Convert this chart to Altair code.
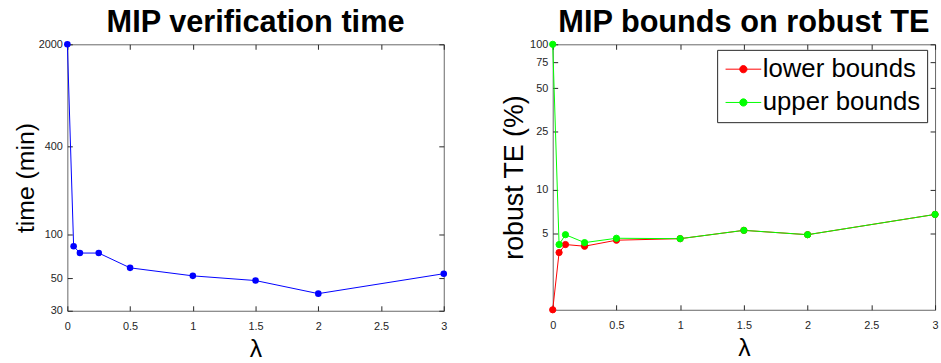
import altair as alt
import pandas as pd

# ---- data ----
lam = [0, 0.05, 0.1, 0.25, 0.5, 1, 1.5, 2, 3]
time_min = [2000, 83, 74.5, 74.5, 59, 52, 48.3, 39.3, 53.8]
lower_te = [1.5, 3.71, 4.21, 4.1, 4.51, 4.62, 5.27, 4.92, 6.78]
upper_te = [100, 4.21, 4.92, 4.34, 4.65, 4.62, 5.27, 4.92, 6.78]
series_names = ["lower bounds", "upper bounds"]
series_colors = ["#FF0000", "#00FF00"]
x_ticks = [0, 0.5, 1, 1.5, 2, 2.5, 3]
time_ticks = [30, 50, 100, 400, 2000]
te_ticks = [5, 10, 25, 50, 75, 100]

df_time = pd.DataFrame({"lam": lam, "time": time_min})
df_te = pd.DataFrame({
    "lam": lam + lam,
    "te": lower_te + upper_te,
    "series": [series_names[0]] * len(lam) + [series_names[1]] * len(lam),
})

FONT = "Liberation Sans"
TICK = "#262626"


def x_main():
    return alt.Axis(orient="bottom", offset=-5, tickSize=5, domain=False, values=x_ticks,
                    format="~g", labelPadding=10, labelFlush=False, labelFont=FONT,
                    labelFontSize=11, labelColor=TICK, tickColor=TICK, title="λ",
                    titleFont=FONT, titleFontSize=25, titleFontWeight="normal",
                    titleColor="#000000", titlePadding=5, grid=False)


def x_top():
    return alt.Axis(orient="top", offset=-5, tickSize=5, domain=False, labels=False,
                    values=x_ticks, tickColor=TICK, title=None, grid=False,
                    minExtent=0, maxExtent=5)


def y_main(ticks, title, size, pad):
    return alt.Axis(orient="left", offset=-5, tickSize=5, domain=False, values=ticks,
                    format="d", labelPadding=5, labelOverlap=False, labelFont=FONT,
                    labelFontSize=11, labelColor=TICK, tickColor=TICK, title=title,
                    titleFont=FONT, titleFontSize=size, titleFontWeight="normal",
                    titleColor="#000000", titlePadding=pad, grid=False)


def y_right(ticks):
    return alt.Axis(orient="right", offset=-5, tickSize=5, domain=False, labels=False,
                    values=ticks, tickColor=TICK, title=None, grid=False,
                    minExtent=0, maxExtent=5)


def title(text):
    return alt.TitleParams(text, font=FONT, fontSize=31, fontWeight="bold", color="#000000",
                           anchor="middle", frame="group", baseline="alphabetic", offset=-25)


xs = alt.Scale(domain=[0, 3], nice=False, zero=False)

# ---- left panel ----
ys_time = alt.Scale(type="log", domain=[30, 2000], nice=False)
base_l = alt.Chart(df_time)
line_l = base_l.mark_line(color="#0000FF", strokeWidth=1).encode(
    x=alt.X("lam:Q", scale=xs, axis=x_main()),
    y=alt.Y("time:Q", scale=ys_time, axis=y_main(time_ticks, "time (min)", 25, 0)),
)
pts_l = base_l.mark_point(filled=True, size=44, color="#0000FF", opacity=1).encode(
    x=alt.X("lam:Q", scale=xs, axis=x_top()),
    y=alt.Y("time:Q", scale=ys_time, axis=y_right(time_ticks)),
)
left = alt.layer(line_l, pts_l).resolve_axis(x="independent", y="independent").properties(
    width=380, height=269, title=title("MIP verification time"))

# ---- right panel ----
ys_te = alt.Scale(type="log", domain=[1.5, 100], nice=False)
col_scale = alt.Scale(domain=series_names, range=series_colors)
SYMBOL = "M-1.385,0H1.385M-0.28,0A0.28,0.28,0,1,1,0.28,0A0.28,0.28,0,1,1,-0.28,0Z"


def legend():
    return alt.Legend(title=None, orient="none", legendX=656, legendY=5.6, symbolType=SYMBOL,
                      symbolSize=676, symbolStrokeWidth=1, symbolOffset=7, labelFont=FONT,
                      labelFontSize=26, labelColor="#000000", labelLimit=400, labelOffset=6,
                      padding=6, rowPadding=6.6, strokeColor="#262626", fillColor="#FFFFFF",
                      direction="vertical")


base_r = alt.Chart(df_te)
line_r = base_r.mark_line(strokeWidth=1).encode(
    x=alt.X("lam:Q", scale=xs, axis=x_main()),
    y=alt.Y("te:Q", scale=ys_te, axis=y_main(te_ticks, "robust TE (%)", 27, 1)),
    stroke=alt.Stroke("series:N", scale=col_scale, legend=legend()),
)
pts_r = base_r.mark_point(filled=True, size=40, strokeWidth=1, opacity=1).encode(
    x=alt.X("lam:Q", scale=xs, axis=x_top()),
    y=alt.Y("te:Q", scale=ys_te, axis=y_right(te_ticks)),
    fill=alt.Fill("series:N", scale=col_scale, legend=legend()),
    stroke=alt.Stroke("series:N", scale=col_scale, legend=legend()),
)
right = alt.layer(line_r, pts_r).resolve_axis(x="independent", y="independent").properties(
    width=386, height=268, title=title("MIP bounds on robust TE"))

chart = alt.hconcat(left, right, spacing=53).properties(
    padding={"left": 13, "top": 5, "right": 0, "bottom": 0},
    background="#FFFFFF",
).configure_view(stroke="#666666", strokeWidth=1)

chart.save("out.html", embed_options={"renderer": "svg", "actions": False})
